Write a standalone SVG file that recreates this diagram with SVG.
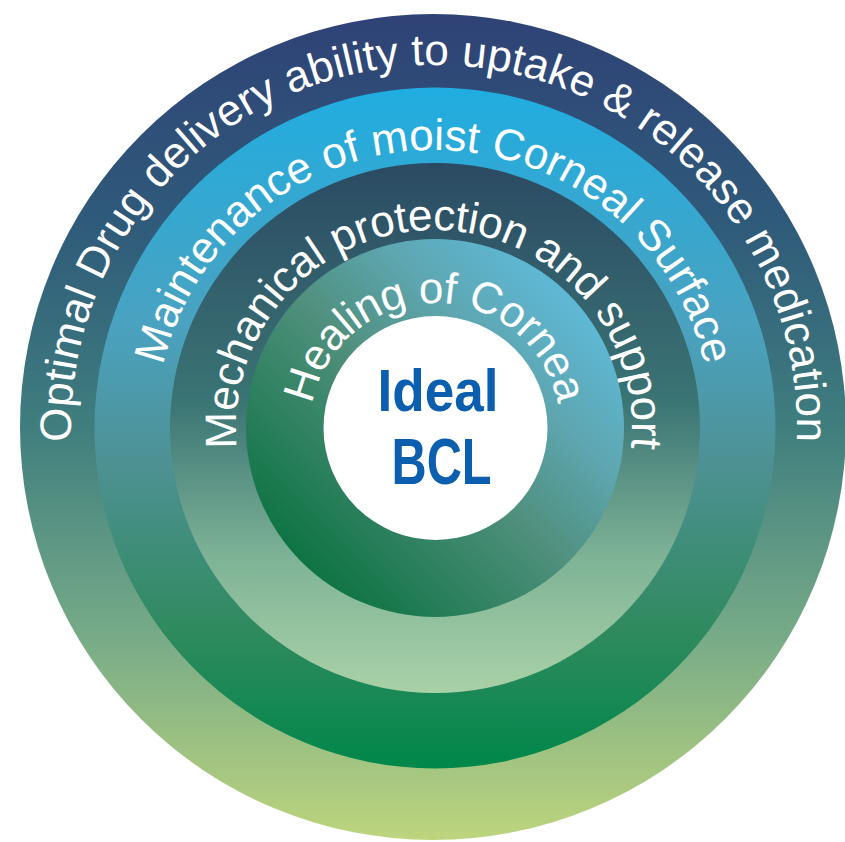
<svg xmlns="http://www.w3.org/2000/svg" xmlns:xlink="http://www.w3.org/1999/xlink" width="845" height="842" viewBox="0 0 845 842">
  <style>
    .ring-label { font-family: "Liberation Sans", Arial, sans-serif; font-size: 44px; fill: #ffffff; }
    .center-label { font-family: "Liberation Sans", Arial, sans-serif; font-weight: bold; fill: #0c5eae; }
  </style>
  <defs>
    <linearGradient id="g1" x1="0" y1="0" x2="0" y2="1">
      <stop offset="0" stop-color="#2f4276"/>
      <stop offset="0.25" stop-color="#2f5a7a"/>
      <stop offset="0.5" stop-color="#3f7e7e"/>
      <stop offset="0.75" stop-color="#76aa88"/>
      <stop offset="1" stop-color="#bdd57d"/>
    </linearGradient>
    <linearGradient id="g2" x1="0" y1="0" x2="0" y2="1">
      <stop offset="0" stop-color="#20ade1"/>
      <stop offset="0.35" stop-color="#4aa2c0"/>
      <stop offset="0.55" stop-color="#4e9194"/>
      <stop offset="0.8" stop-color="#2f8a5e"/>
      <stop offset="1" stop-color="#00874a"/>
    </linearGradient>
    <linearGradient id="g3" x1="0" y1="0" x2="0" y2="1">
      <stop offset="0" stop-color="#2b4a63"/>
      <stop offset="0.45" stop-color="#3a7474"/>
      <stop offset="0.75" stop-color="#7fb497"/>
      <stop offset="1" stop-color="#a9d1a7"/>
    </linearGradient>
    <linearGradient id="g4" x1="0.9" y1="0.1" x2="0.15" y2="0.85">
      <stop offset="0" stop-color="#5ebde0"/>
      <stop offset="0.3" stop-color="#5ea6b0"/>
      <stop offset="0.55" stop-color="#4f8f7c"/>
      <stop offset="1" stop-color="#0f7444"/>
    </linearGradient>
    <path id="p1" d="M 434 791 A 363 363 0 1 1 434 65 A 363 363 0 1 1 434 791"/>
    <path id="p2" d="M 434 706 A 278 278 0 1 1 434 150 A 278 278 0 1 1 434 706"/>
    <path id="p3" d="M 434 626 A 198 198 0 1 1 434 230 A 198 198 0 1 1 434 626"/>
    <path id="p4" d="M 435 553 A 125 125 0 1 1 435 303 A 125 125 0 1 1 435 553"/>
  </defs>

  <g id="ring-drug-delivery">
    <circle cx="433" cy="427" r="413" fill="url(#g1)"/>
    <text class="ring-label" text-anchor="middle"><textPath xlink:href="#p1" href="#p1" startOffset="50%" textLength="1168" lengthAdjust="spacing">Optimal Drug delivery ability to uptake &amp; release medication</textPath></text>
  </g>

  <g id="ring-moist-surface">
    <circle cx="435" cy="428" r="340.5" fill="url(#g2)"/>
    <text class="ring-label" text-anchor="middle"><textPath xlink:href="#p2" href="#p2" startOffset="50%" textLength="747" lengthAdjust="spacing">Maintenance of moist Corneal Surface</textPath></text>
  </g>

  <g id="ring-mechanical">
    <circle cx="435" cy="428" r="265" fill="url(#g3)"/>
    <text class="ring-label" text-anchor="middle"><textPath xlink:href="#p3" href="#p3" startOffset="50%" textLength="663" lengthAdjust="spacing">Mechanical protection and support</textPath></text>
  </g>

  <g id="ring-healing">
    <circle cx="435" cy="428" r="189" fill="url(#g4)"/>
    <text class="ring-label" text-anchor="middle"><textPath xlink:href="#p4" href="#p4" startOffset="50%" textLength="345" lengthAdjust="spacing">Healing of Cornea</textPath></text>
  </g>

  <g id="center-ideal-bcl">
    <circle cx="435.5" cy="428" r="112" fill="#ffffff"/>
    <text class="center-label" x="438" y="411" font-size="60" text-anchor="middle" textLength="121" lengthAdjust="spacingAndGlyphs">Ideal</text>
    <text class="center-label" x="441.5" y="484" font-size="64" text-anchor="middle" textLength="100" lengthAdjust="spacingAndGlyphs">BCL</text>
  </g>
</svg>
